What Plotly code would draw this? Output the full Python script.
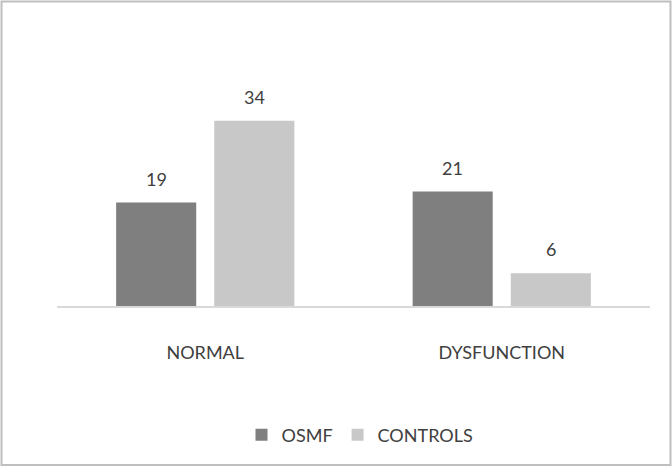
import plotly.graph_objects as go

categories = ["NORMAL", "DYSFUNCTION"]
osmf = [19, 21]
controls = [34, 6]
series_names = ["OSMF", "CONTROLS"]

W, H = 672, 467
L, R, T, B = 57, 22, 50, 161
pw, ph = W - L - R, H - T - B

font_family = "Lato, 'Open Sans', sans-serif"
text_color = "#404040"
colors = ["#7f7f7f", "#c8c8c8"]

fig = go.Figure()
for name, vals, col in zip(series_names, [osmf, controls], colors):
    fig.add_trace(go.Bar(
        x=categories, y=vals, name=name,
        marker=dict(color=col, line=dict(width=0)),
    ))

def px_x(p):
    return (p - L) / pw

def px_y(p):
    return (H - B - p) / ph

# value labels above bars
annotations = []
offsets = [-49, 49]
for vals, dx in zip([osmf, controls], offsets):
    for c, v in zip(categories, vals):
        annotations.append(dict(
            x=c, y=v, xref="x", yref="y", text=str(v), showarrow=False,
            xshift=dx, yshift=24, yanchor="middle",
            font=dict(size=18, color=text_color, family=font_family),
        ))

fig.update_layout(
    width=W, height=H,
    margin=dict(l=L, r=R, t=T, b=B),
    paper_bgcolor="white", plot_bgcolor="white",
    barmode="group", bargap=0.338, bargroupgap=0.184,
    font=dict(family=font_family, color=text_color, size=18),
    showlegend=True,
    legend=dict(
        orientation="h", x=px_x(360), xanchor="center",
        y=px_y(435), yanchor="middle",
        font=dict(size=18, color=text_color, family=font_family),
        traceorder="normal", itemwidth=30,
    ),
    xaxis=dict(
        showline=True, linecolor="#d9d9d9", linewidth=2,
        ticks="", showgrid=False, ticklabelstandoff=29,
        tickfont=dict(size=18, color=text_color, family=font_family),
    ),
    yaxis=dict(
        range=[0, 47], showgrid=False, showticklabels=False,
        zeroline=False, showline=False, ticks="",
    ),
    annotations=annotations,
    shapes=[dict(
        type="rect", xref="paper", yref="paper",
        x0=px_x(1.5), x1=px_x(670.5), y0=px_y(1.5), y1=px_y(465),
        line=dict(color="#bfbfbf", width=2), fillcolor="rgba(0,0,0,0)",
        layer="below",
    )],
)

fig.write_html(
    "out.html",
    config={"displayModeBar": False},
    post_script="document.body.style.margin='0';document.body.style.overflow='hidden';",
)
